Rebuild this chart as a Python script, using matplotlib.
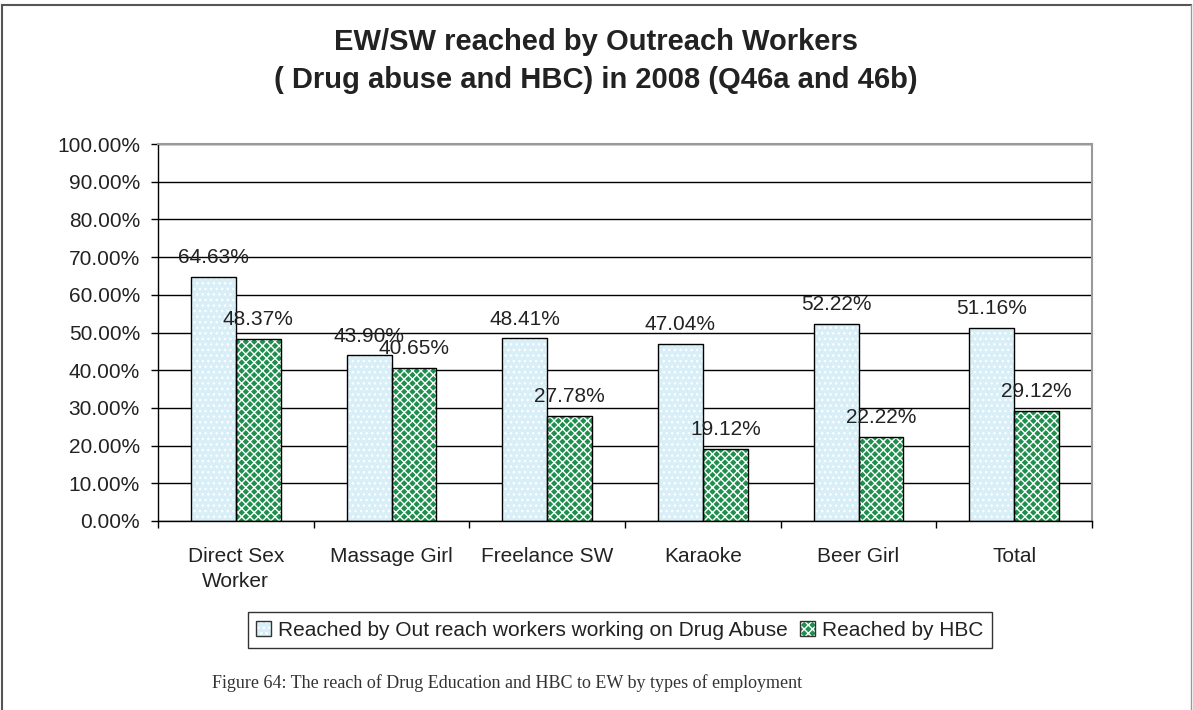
import matplotlib
matplotlib.use("Agg")
import matplotlib.pyplot as plt
import numpy as np
from matplotlib.lines import Line2D
from matplotlib.patches import Patch
from matplotlib.legend_handler import HandlerTuple
from matplotlib.ticker import MultipleLocator, PercentFormatter

plt.rcParams["font.family"] = "Liberation Sans"
plt.rcParams["hatch.linewidth"] = 1.0

categories = ["Direct Sex\nWorker", "Massage Girl", "Freelance SW", "Karaoke", "Beer Girl", "Total"]
drug_abuse = [64.63, 43.90, 48.41, 47.04, 52.22, 51.16]
hbc = [48.37, 40.65, 27.78, 19.12, 22.22, 29.12]
series_names = ["Reached by Out reach workers working on Drug Abuse", "Reached by HBC"]

light_blue = "#d8eff7"
green = "#1f8f4e"

fig = plt.figure(figsize=(11.93, 7.10), dpi=100)
ax = fig.add_axes([158 / 1193, 1 - 521 / 710, 934 / 1193, 377 / 710])

x = np.arange(len(categories))
w = 0.289

# hatched fill first, then a plain black outline on top
for vals, off, face, hatch in [(drug_abuse, -w / 2, light_blue, "..."),
                               (hbc, w / 2, green, "xxxx")]:
    ax.bar(x + off, vals, w, color=face, edgecolor="white", linewidth=0, hatch=hatch, zorder=2)
    ax.bar(x + off, vals, w, fill=False, edgecolor="black", linewidth=1.0, zorder=3)
    for xi, v in zip(x + off, vals):
        ax.annotate(f"{v:.2f}%", (xi, v), xytext=(0, 14), textcoords="offset points",
                    ha="center", va="center", fontsize=15, color="#222222", zorder=4)

ax.set_xlim(-0.5, len(categories) - 0.5)
ax.set_ylim(0, 100)
ax.yaxis.set_major_locator(MultipleLocator(10))
ax.yaxis.set_major_formatter(PercentFormatter(decimals=2))
ax.grid(axis="y", color="black", linewidth=1.0, zorder=1)
ax.set_axisbelow(True)

ax.set_xticks(x)
ax.set_xticklabels(categories, fontsize=15, color="#222222", linespacing=1.4)
ax.set_xticks(np.arange(len(categories) + 1) - 0.5, minor=True)
ax.tick_params(axis="x", which="major", length=0, pad=19)
ax.tick_params(axis="x", which="minor", length=5, width=1, direction="out")
ax.tick_params(axis="y", length=5, width=1, labelsize=15, labelcolor="#222222", pad=8)

for side in ["left", "bottom"]:
    ax.spines[side].set_color("black")
    ax.spines[side].set_linewidth(1.0)
for side in ["top", "right"]:
    ax.spines[side].set_color("#999999")
    ax.spines[side].set_linewidth(1.5)

# legend handles: hatched swatch with an outline over it
handles = []
for face, hatch in [(light_blue, "..."), (green, "xxxx")]:
    handles.append((Patch(facecolor=face, edgecolor="white", linewidth=0, hatch=hatch),
                    Patch(fill=False, edgecolor="#333333", linewidth=1.0)))
leg = fig.legend(handles, series_names, handler_map={tuple: HandlerTuple(ndivide=1)},
                 loc="center", bbox_to_anchor=(620 / 1193, 1 - 630 / 710), ncol=2,
                 fontsize=15, frameon=True, fancybox=False, edgecolor="black",
                 handlelength=0.7, handleheight=0.7, handletextpad=0.35, columnspacing=0.6,
                 borderpad=0.4, borderaxespad=0)
leg.get_frame().set_linewidth(1.0)
for t in leg.get_texts():
    t.set_color("#222222")

fig.text(596 / 1193, 1 - 42 / 710, "EW/SW reached by Outreach Workers",
         ha="center", va="center", fontsize=21, fontweight="bold", color="#222222")
fig.text(596 / 1193, 1 - 80 / 710, "( Drug abuse and HBC) in 2008 (Q46a and 46b)",
         ha="center", va="center", fontsize=21, fontweight="bold", color="#222222")

fig.text(507 / 1193, 1 - 683 / 710,
         "Figure 64: The reach of Drug Education and HBC to EW by types of employment",
         ha="center", va="center", fontsize=13, family="Liberation Serif", color="#333333")

# outer frame (left, top, right)
frame = "#555555"
fig.add_artist(Line2D([2 / 1193, 2 / 1193], [0, 1 - 5 / 710], color=frame, lw=1.5, transform=fig.transFigure))
fig.add_artist(Line2D([2 / 1193, 1191 / 1193], [1 - 5 / 710, 1 - 5 / 710], color=frame, lw=1.5, transform=fig.transFigure))
fig.add_artist(Line2D([1191 / 1193, 1191 / 1193], [0, 1 - 5 / 710], color="#999999", lw=1.0, transform=fig.transFigure))

fig.savefig("out.png", dpi=100)
